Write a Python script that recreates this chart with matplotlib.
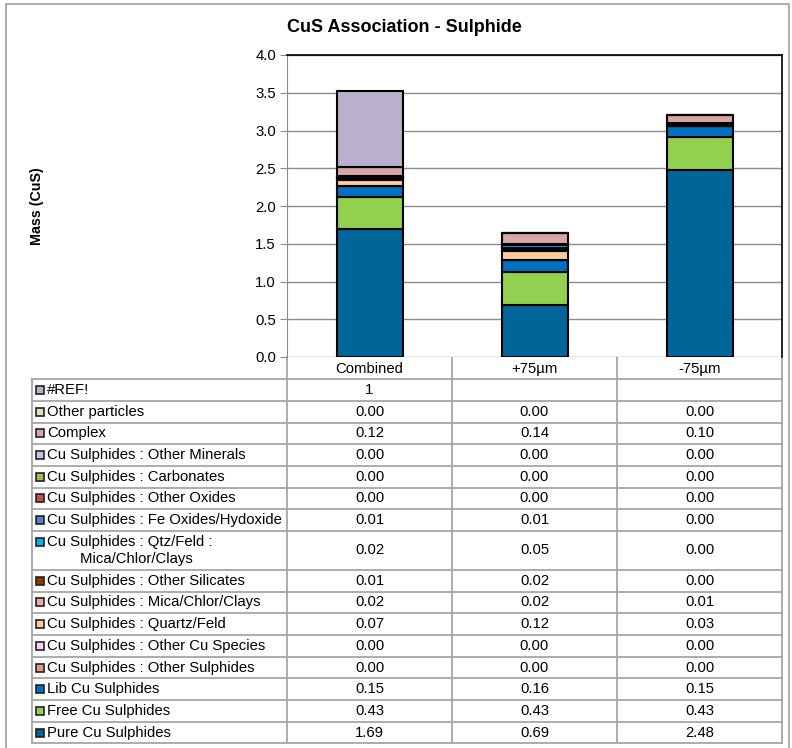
import matplotlib
matplotlib.use("Agg")
import matplotlib.pyplot as plt
import numpy as np

plt.rcParams['font.family'] = ['Liberation Sans', 'DejaVu Sans']

# data (stacking order, bottom first)
categories = ["Combined", "+75\u00b5m", "-75\u00b5m"]
series_names = [
    "Pure Cu Sulphides",
    "Free Cu Sulphides",
    "Lib Cu Sulphides",
    "Cu Sulphides : Other Sulphides",
    "Cu Sulphides : Other Cu Species",
    "Cu Sulphides : Quartz/Feld",
    "Cu Sulphides : Mica/Chlor/Clays",
    "Cu Sulphides : Other Silicates",
    "Cu Sulphides : Qtz/Feld :\n        Mica/Chlor/Clays",
    "Cu Sulphides : Fe Oxides/Hydoxide",
    "Cu Sulphides : Other Oxides",
    "Cu Sulphides : Carbonates",
    "Cu Sulphides : Other Minerals",
    "Complex",
    "Other particles",
    "#REF!",
]
combined = [1.69, 0.43, 0.15, 0.00, 0.00, 0.07, 0.02, 0.01, 0.02, 0.01, 0.00, 0.00, 0.00, 0.12, 0.00, 1]
plus75 = [0.69, 0.43, 0.16, 0.00, 0.00, 0.12, 0.02, 0.02, 0.05, 0.01, 0.00, 0.00, 0.00, 0.14, 0.00, np.nan]
minus75 = [2.48, 0.43, 0.15, 0.00, 0.00, 0.03, 0.01, 0.00, 0.00, 0.00, 0.00, 0.00, 0.00, 0.10, 0.00, np.nan]
colors = ["#006699", "#92D050", "#0070C0", "#E6958F", "#FFCCFF", "#FFCC99",
          "#F4A6A0", "#993300", "#00B0F0", "#4F81BD", "#C0504D", "#9BBB59",
          "#B9C7E0", "#D9A6A6", "#D7E4BD", "#B8B0CC"]

W, H = 792, 748
fs = 10.7
fig = plt.figure(figsize=(W / 100, H / 100), dpi=100)

# pixel-space background layer for frame + table
bg = fig.add_axes([0, 0, 1, 1], zorder=0)
bg.set_xlim(0, W)
bg.set_ylim(H, 0)
bg.axis('off')

grey = "#A6A6A6"
bg.plot([6, 6, 789, 789], [H, 4, 4, H], color=grey, lw=1.3)

# chart area
px_l, px_r, px_t, px_b = 287, 782, 55, 357
ax = fig.add_axes([px_l / W, 1 - px_b / H, (px_r - px_l) / W, (px_b - px_t) / H], zorder=1)
x = np.arange(len(categories))
vals = np.array([combined, plus75, minus75])
vals = np.nan_to_num(vals)
bottom = np.zeros(len(categories))
for i, name in enumerate(series_names):
    ax.bar(x, vals[:, i], 0.4, bottom=bottom, color=colors[i],
           edgecolor="black", linewidth=1.5, zorder=3)
    bottom += vals[:, i]

ax.set_xlim(-0.5, 2.5)
ax.set_ylim(0, 4.0)
ax.set_yticks(np.arange(0, 4.01, 0.5))
ax.set_yticklabels([f"{v:.1f}" for v in np.arange(0, 4.01, 0.5)], fontsize=fs)
ax.set_xticks([])
ax.grid(axis='y', color="#8C8C8C", lw=1.0, zorder=0)
ax.tick_params(axis='y', direction='out', length=5, color="#8C8C8C", pad=3)
ax.spines['left'].set_color("#8C8C8C")
ax.spines['bottom'].set_visible(False)
for s in ['top', 'right']:
    ax.spines[s].set_color("black")
    ax.spines[s].set_linewidth(1.2)

fig.text(404 / W, 1 - 28 / H, "CuS Association - Sulphide", ha='center', va='center',
         fontsize=13, fontweight='bold')
fig.text(37 / W, 1 - 206 / H, "Mass (CuS)", ha='center', va='center', rotation=90,
         fontsize=10.3, fontweight='bold')

# data table
col_w = (px_r - px_l) / len(categories)
lab_l = 32
head_b = 379.3
row_h = 21.67
rows = list(range(len(series_names)))[::-1]
heights = [39.0 if "\n" in series_names[r] else row_h for r in rows]
edges = np.concatenate([[head_b], head_b + np.cumsum(heights)])

for j, cat in enumerate(categories):
    bg.text(px_l + col_w * (j + 0.5), (px_b + head_b) / 2 + 1, cat, ha='center', va='center', fontsize=fs)
for j in range(len(categories) + 1):
    bg.plot([px_l + col_w * j] * 2, [px_b, edges[-1]], color=grey, lw=1.3)
bg.plot([lab_l, lab_l], [head_b, edges[-1]], color=grey, lw=1.3)
for e in edges:
    bg.plot([lab_l, px_r], [e, e], color=grey, lw=1.3)

col_vals = [combined, plus75, minus75]
for k, r in enumerate(rows):
    yc = (edges[k] + edges[k + 1]) / 2
    name = series_names[r]
    key_y = yc if "\n" not in name else edges[k] + 11
    bg.add_patch(plt.Rectangle((36, key_y - 4), 8, 8, facecolor=colors[r],
                               edgecolor="#222222", lw=1.2))
    if "\n" in name:
        l1, l2 = name.split("\n")
        bg.text(47, edges[k] + 11, l1, ha='left', va='center', fontsize=fs)
        bg.text(47, edges[k] + 28.5, l2, ha='left', va='center', fontsize=fs)
    else:
        bg.text(47, yc, name, ha='left', va='center', fontsize=fs)
    for j in range(len(categories)):
        v = col_vals[j][r]
        if np.isnan(v):
            continue
        s = f"{v:g}" if name == "#REF!" else f"{v:.2f}"
        bg.text(px_l + col_w * (j + 0.5), yc, s, ha='center', va='center', fontsize=fs)

fig.savefig("out.png", dpi=100)
